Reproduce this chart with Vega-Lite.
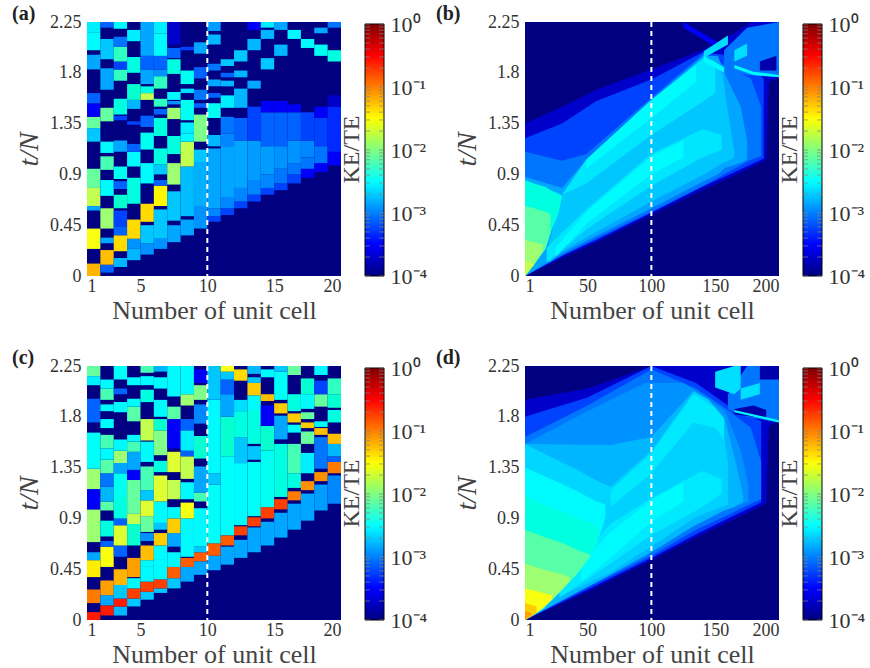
{"$schema":"https://vega.github.io/schema/vega-lite/v6.json","padding":{"left":12,"top":4,"right":0,"bottom":0},"config":{"view":{"stroke":null},"font":"Liberation Serif","axis":{"grid":false,"domain":false,"ticks":false,"labelFontSize":18,"labelColor":"#333333","titleColor":"#444444","titleFontWeight":"normal","labelFont":"Liberation Serif","titleFont":"Liberation Serif"},"title":{"font":"Liberation Serif","fontSize":20,"fontWeight":"bold","anchor":"start","frame":"group","color":"#222222"}},
"datasets":{"cb":[{"lo":1e-4,"hi":1}],"tk":[{"y":1e-4},{"y":2e-4},{"y":3e-4},{"y":4e-4},{"y":5e-4},{"y":6e-4},{"y":7e-4},{"y":8e-4},{"y":9e-4},{"y":1e-3},{"y":2e-3},{"y":3e-3},{"y":4e-3},{"y":5e-3},{"y":6e-3},{"y":7e-3},{"y":8e-3},{"y":9e-3},{"y":1e-2},{"y":2e-2},{"y":3e-2},{"y":4e-2},{"y":5e-2},{"y":6e-2},{"y":7e-2},{"y":8e-2},{"y":9e-2},{"y":0.1},{"y":0.2},{"y":0.3},{"y":0.4},{"y":0.5},{"y":0.6},{"y":0.7},{"y":0.8},{"y":0.9},{"y":1}],"m10":[{"x":10}],"m100":[{"x":100}],
"a":[{"x":1,"x2":20,"t0":0,"t1":2.25,"v":1e-4},
{"x":1,"x2":2,"t0":0,"t1":0.11,"v":8e-2},{"x":1,"x2":2,"t0":0.24,"t1":0.42,"v":3e-2},{"x":1,"x2":2,"t0":0.58,"t1":0.62,"v":1e-3},{"x":1,"x2":2,"t0":0.62,"t1":0.78,"v":2e-2},{"x":1,"x2":2,"t0":0.78,"t1":0.95,"v":1e-2},{"x":1,"x2":2,"t0":1.19,"t1":1.31,"v":1.5e-3},{"x":1,"x2":2,"t0":1.31,"t1":1.41,"v":1e-2},{"x":1,"x2":2,"t0":1.41,"t1":1.53,"v":3e-4},{"x":1,"x2":2,"t0":1.53,"t1":1.62,"v":5e-4},{"x":1,"x2":2,"t0":1.83,"t1":1.96,"v":1e-3},{"x":1,"x2":2,"t0":2,"t1":2.16,"v":3e-3},{"x":1,"x2":2,"t0":2.16,"t1":2.25,"v":2.5e-3},
{"x":2,"x2":3,"t0":0.03,"t1":0.1,"v":5e-4},{"x":2,"x2":3,"t0":0.1,"t1":0.23,"v":7e-2},{"x":2,"x2":3,"t0":0.29,"t1":0.34,"v":1e-3},{"x":2,"x2":3,"t0":0.42,"t1":0.6,"v":1.5e-2},{"x":2,"x2":3,"t0":0.71,"t1":0.85,"v":3e-3},{"x":2,"x2":3,"t0":0.94,"t1":1.06,"v":8e-3},{"x":2,"x2":3,"t0":1.09,"t1":1.19,"v":3e-3},{"x":2,"x2":3,"t0":1.37,"t1":1.49,"v":1e-2},{"x":2,"x2":3,"t0":1.65,"t1":1.84,"v":1e-3},{"x":2,"x2":3,"t0":1.92,"t1":2.1,"v":1.5e-3},{"x":2,"x2":3,"t0":2.2,"t1":2.25,"v":5e-4},
{"x":3,"x2":4,"t0":0.08,"t1":0.16,"v":1.2e-3},{"x":3,"x2":4,"t0":0.22,"t1":0.36,"v":5e-2},{"x":3,"x2":4,"t0":0.36,"t1":0.44,"v":5e-4},{"x":3,"x2":4,"t0":0.44,"t1":0.58,"v":4e-4},{"x":3,"x2":4,"t0":0.6,"t1":0.72,"v":6e-3},{"x":3,"x2":4,"t0":0.77,"t1":0.84,"v":5e-4},{"x":3,"x2":4,"t0":0.86,"t1":0.97,"v":4e-3},{"x":3,"x2":4,"t0":1.1,"t1":1.2,"v":1e-3},{"x":3,"x2":4,"t0":1.38,"t1":1.42,"v":4e-4},{"x":3,"x2":4,"t0":1.43,"t1":1.57,"v":5e-3},{"x":3,"x2":4,"t0":1.73,"t1":1.83,"v":7e-3},{"x":3,"x2":4,"t0":1.83,"t1":1.9,"v":4e-4},{"x":3,"x2":4,"t0":1.9,"t1":2.03,"v":7e-3},{"x":3,"x2":4,"t0":2.03,"t1":2.12,"v":6e-4},{"x":3,"x2":4,"t0":2.19,"t1":2.25,"v":3e-3},
{"x":4,"x2":5,"t0":0.14,"t1":0.24,"v":1.2e-3},{"x":4,"x2":5,"t0":0.24,"t1":0.33,"v":8e-4},{"x":4,"x2":5,"t0":0.33,"t1":0.5,"v":5e-2},{"x":4,"x2":5,"t0":0.64,"t1":0.87,"v":5e-3},{"x":4,"x2":5,"t0":0.97,"t1":1.1,"v":3e-3},{"x":4,"x2":5,"t0":1.1,"t1":1.17,"v":5e-4},{"x":4,"x2":5,"t0":1.34,"t1":1.37,"v":4e-4},{"x":4,"x2":5,"t0":1.48,"t1":1.56,"v":1.2e-3},{"x":4,"x2":5,"t0":1.56,"t1":1.7,"v":6e-3},{"x":4,"x2":5,"t0":1.8,"t1":1.94,"v":5e-3},{"x":4,"x2":5,"t0":2.08,"t1":2.18,"v":2.5e-3},
{"x":5,"x2":6,"t0":0.19,"t1":0.29,"v":8e-4},{"x":5,"x2":6,"t0":0.29,"t1":0.45,"v":1.5e-3},{"x":5,"x2":6,"t0":0.48,"t1":0.64,"v":5e-2},{"x":5,"x2":6,"t0":0.82,"t1":1,"v":3e-3},{"x":5,"x2":6,"t0":1.12,"t1":1.27,"v":4e-3},{"x":5,"x2":6,"t0":1.32,"t1":1.42,"v":5e-4},{"x":5,"x2":6,"t0":1.56,"t1":1.62,"v":2e-2},{"x":5,"x2":6,"t0":1.62,"t1":1.68,"v":5e-3},{"x":5,"x2":6,"t0":1.7,"t1":1.83,"v":1e-3},{"x":5,"x2":6,"t0":1.83,"t1":1.95,"v":5e-4},{"x":5,"x2":6,"t0":1.95,"t1":2.25,"v":1e-3},
{"x":6,"x2":7,"t0":0.24,"t1":0.33,"v":8e-4},{"x":6,"x2":7,"t0":0.33,"t1":0.59,"v":1.5e-3},{"x":6,"x2":7,"t0":0.62,"t1":0.8,"v":3.5e-2},{"x":6,"x2":7,"t0":0.8,"t1":0.85,"v":5e-4},{"x":6,"x2":7,"t0":0.9,"t1":0.99,"v":1.5e-3},{"x":6,"x2":7,"t0":0.99,"t1":1.13,"v":5e-3},{"x":6,"x2":7,"t0":1.24,"t1":1.4,"v":5e-3},{"x":6,"x2":7,"t0":1.43,"t1":1.48,"v":5e-4},{"x":6,"x2":7,"t0":1.5,"t1":1.57,"v":7e-3},{"x":6,"x2":7,"t0":1.66,"t1":1.77,"v":7e-3},{"x":6,"x2":7,"t0":1.77,"t1":1.83,"v":8e-4},{"x":6,"x2":7,"t0":1.83,"t1":1.95,"v":5e-4},{"x":6,"x2":7,"t0":1.95,"t1":2.15,"v":3e-3},{"x":6,"x2":7,"t0":2.15,"t1":2.25,"v":2.5e-3},
{"x":7,"x2":8,"t0":0.3,"t1":0.45,"v":1e-3},{"x":7,"x2":8,"t0":0.49,"t1":0.75,"v":1.5e-3},{"x":7,"x2":8,"t0":0.81,"t1":1,"v":1.5e-2},{"x":7,"x2":8,"t0":1.08,"t1":1.24,"v":5e-3},{"x":7,"x2":8,"t0":1.39,"t1":1.49,"v":1.5e-2},{"x":7,"x2":8,"t0":1.52,"t1":1.55,"v":8e-4},{"x":7,"x2":8,"t0":1.56,"t1":1.63,"v":3e-3},{"x":7,"x2":8,"t0":1.79,"t1":1.92,"v":5e-3},{"x":7,"x2":8,"t0":1.93,"t1":2.02,"v":5e-4},{"x":7,"x2":8,"t0":2.05,"t1":2.25,"v":2e-4},
{"x":8,"x2":9,"t0":0.36,"t1":0.5,"v":1e-3},{"x":8,"x2":9,"t0":0.53,"t1":0.97,"v":1.3e-3},{"x":8,"x2":9,"t0":0.97,"t1":1.19,"v":2e-2},{"x":8,"x2":9,"t0":1.19,"t1":1.26,"v":3e-3},{"x":8,"x2":9,"t0":1.26,"t1":1.36,"v":2.5e-3},{"x":8,"x2":9,"t0":1.38,"t1":1.56,"v":4e-3},{"x":8,"x2":9,"t0":1.62,"t1":1.66,"v":2e-3},{"x":8,"x2":9,"t0":1.7,"t1":1.82,"v":4e-3},{"x":8,"x2":9,"t0":2,"t1":2.03,"v":4e-4},
{"x":9,"x2":10,"t0":0.42,"t1":0.62,"v":8e-4},{"x":9,"x2":10,"t0":0.62,"t1":1.01,"v":1.1e-3},{"x":9,"x2":10,"t0":1.01,"t1":1.12,"v":1.5e-3},{"x":9,"x2":10,"t0":1.19,"t1":1.43,"v":1.2e-2},{"x":9,"x2":10,"t0":1.49,"t1":1.53,"v":5e-4},{"x":9,"x2":10,"t0":1.56,"t1":1.65,"v":6e-4},{"x":9,"x2":10,"t0":1.75,"t1":1.85,"v":5e-4},{"x":9,"x2":10,"t0":1.97,"t1":2.07,"v":1e-3},
{"x":10,"x2":11,"t0":0.48,"t1":0.53,"v":4e-4},{"x":10,"x2":11,"t0":0.53,"t1":0.6,"v":7e-4},{"x":10,"x2":11,"t0":0.6,"t1":1.13,"v":1e-3},{"x":10,"x2":11,"t0":1.15,"t1":1.25,"v":1.2e-3},{"x":10,"x2":11,"t0":1.4,"t1":1.53,"v":4e-3},{"x":10,"x2":11,"t0":1.58,"t1":1.62,"v":5e-4},{"x":10,"x2":11,"t0":1.68,"t1":1.74,"v":1e-3},{"x":10,"x2":11,"t0":1.82,"t1":1.88,"v":6e-4},{"x":10,"x2":11,"t0":2.05,"t1":2.14,"v":1.2e-3},{"x":10,"x2":11,"t0":2.17,"t1":2.25,"v":9e-4},
{"x":11,"x2":12,"t0":0.54,"t1":0.6,"v":4e-4},{"x":11,"x2":12,"t0":0.6,"t1":0.7,"v":7e-4},{"x":11,"x2":12,"t0":0.7,"t1":1.15,"v":1e-3},{"x":11,"x2":12,"t0":1.15,"t1":1.26,"v":7e-4},{"x":11,"x2":12,"t0":1.26,"t1":1.41,"v":6e-4},{"x":11,"x2":12,"t0":1.49,"t1":1.6,"v":2.5e-3},{"x":11,"x2":12,"t0":1.68,"t1":1.73,"v":1.2e-3},{"x":11,"x2":12,"t0":1.76,"t1":1.8,"v":5e-4},{"x":11,"x2":12,"t0":1.86,"t1":1.92,"v":1.5e-3},
{"x":12,"x2":13,"t0":0.6,"t1":0.66,"v":4e-4},{"x":12,"x2":13,"t0":0.66,"t1":0.78,"v":7e-4},{"x":12,"x2":13,"t0":0.78,"t1":1.2,"v":1e-3},{"x":12,"x2":13,"t0":1.2,"t1":1.4,"v":5e-4},{"x":12,"x2":13,"t0":1.49,"t1":1.66,"v":1.2e-3},{"x":12,"x2":13,"t0":1.76,"t1":1.82,"v":1.2e-3},{"x":12,"x2":13,"t0":1.9,"t1":2,"v":1.5e-3},
{"x":13,"x2":14,"t0":0.66,"t1":0.72,"v":4e-4},{"x":13,"x2":14,"t0":0.72,"t1":0.85,"v":7e-4},{"x":13,"x2":14,"t0":0.85,"t1":1.2,"v":9e-4},{"x":13,"x2":14,"t0":1.2,"t1":1.5,"v":4e-4},{"x":13,"x2":14,"t0":1.66,"t1":1.73,"v":1e-3},{"x":13,"x2":14,"t0":2,"t1":2.1,"v":1.2e-3},{"x":13,"x2":14,"t0":2.18,"t1":2.25,"v":3e-4},
{"x":14,"x2":15,"t0":0.72,"t1":0.78,"v":4e-4},{"x":14,"x2":15,"t0":0.78,"t1":0.9,"v":7e-4},{"x":14,"x2":15,"t0":0.9,"t1":1.15,"v":9e-4},{"x":14,"x2":15,"t0":1.15,"t1":1.45,"v":5e-4},{"x":14,"x2":15,"t0":1.45,"t1":1.55,"v":3e-4},{"x":14,"x2":15,"t0":1.83,"t1":1.93,"v":1.5e-3},{"x":14,"x2":15,"t0":2.1,"t1":2.18,"v":1.2e-3},{"x":14,"x2":15,"t0":2.2,"t1":2.25,"v":2.5e-3},
{"x":15,"x2":16,"t0":0.76,"t1":0.82,"v":4e-4},{"x":15,"x2":16,"t0":0.82,"t1":0.95,"v":6e-4},{"x":15,"x2":16,"t0":0.95,"t1":1.15,"v":8e-4},{"x":15,"x2":16,"t0":1.15,"t1":1.45,"v":5e-4},{"x":15,"x2":16,"t0":1.45,"t1":1.55,"v":3e-4},{"x":15,"x2":16,"t0":1.95,"t1":2.05,"v":1.2e-3},{"x":15,"x2":16,"t0":2.18,"t1":2.25,"v":1e-3},
{"x":16,"x2":17,"t0":0.82,"t1":0.9,"v":4e-4},{"x":16,"x2":17,"t0":0.9,"t1":1,"v":6e-4},{"x":16,"x2":17,"t0":1,"t1":1.2,"v":8e-4},{"x":16,"x2":17,"t0":1.2,"t1":1.45,"v":5e-4},{"x":16,"x2":17,"t0":1.45,"t1":1.52,"v":3e-4},{"x":16,"x2":17,"t0":2.1,"t1":2.18,"v":3e-3},
{"x":17,"x2":18,"t0":0.87,"t1":0.95,"v":3e-4},{"x":17,"x2":18,"t0":0.95,"t1":1.05,"v":6e-4},{"x":17,"x2":18,"t0":1.05,"t1":1.2,"v":7e-4},{"x":17,"x2":18,"t0":1.2,"t1":1.45,"v":4e-4},{"x":17,"x2":18,"t0":2.02,"t1":2.1,"v":3e-3},
{"x":18,"x2":19,"t0":0.92,"t1":1,"v":3e-4},{"x":18,"x2":19,"t0":1,"t1":1.15,"v":6e-4},{"x":18,"x2":19,"t0":1.15,"t1":1.4,"v":4e-4},{"x":18,"x2":19,"t0":1.4,"t1":1.5,"v":3e-4},{"x":18,"x2":19,"t0":1.95,"t1":2.05,"v":4e-3},{"x":18,"x2":19,"t0":2.15,"t1":2.2,"v":1e-3},
{"x":19,"x2":20,"t0":0.98,"t1":1.1,"v":3e-4},{"x":19,"x2":20,"t0":1.1,"t1":1.5,"v":3.5e-4},{"x":19,"x2":20,"t0":1.5,"t1":1.6,"v":2e-4},{"x":19,"x2":20,"t0":1.9,"t1":2,"v":5e-3},{"x":19,"x2":20,"t0":2.2,"t1":2.25,"v":6e-4}],
"c":[{"x":1,"x2":20,"t0":0,"t1":2.25,"v":1e-4},
{"x":1,"x2":2,"t0":0,"t1":0.07,"v":0.3},{"x":1,"x2":2,"t0":0.15,"t1":0.27,"v":0.15},{"x":1,"x2":2,"t0":0.38,"t1":0.53,"v":4e-2},{"x":1,"x2":2,"t0":0.53,"t1":0.6,"v":1e-3},{"x":1,"x2":2,"t0":0.69,"t1":0.98,"v":1.5e-2},{"x":1,"x2":2,"t0":0.98,"t1":1.16,"v":3e-4},{"x":1,"x2":2,"t0":1.16,"t1":1.34,"v":1.5e-2},{"x":1,"x2":2,"t0":1.34,"t1":1.66,"v":3.5e-3},{"x":1,"x2":2,"t0":1.75,"t1":1.96,"v":5e-4},{"x":1,"x2":2,"t0":2.08,"t1":2.16,"v":2.5e-3},{"x":1,"x2":2,"t0":2.16,"t1":2.25,"v":1e-2},
{"x":2,"x2":3,"t0":0.04,"t1":0.13,"v":0.3},{"x":2,"x2":3,"t0":0.13,"t1":0.22,"v":1e-3},{"x":2,"x2":3,"t0":0.22,"t1":0.35,"v":0.1},{"x":2,"x2":3,"t0":0.47,"t1":0.65,"v":3e-2},{"x":2,"x2":3,"t0":0.65,"t1":0.7,"v":5e-4},{"x":2,"x2":3,"t0":0.74,"t1":0.88,"v":5e-3},{"x":2,"x2":3,"t0":0.97,"t1":1.05,"v":9e-3},{"x":2,"x2":3,"t0":1.05,"t1":1.18,"v":1.2e-3},{"x":2,"x2":3,"t0":1.18,"t1":1.3,"v":6e-4},{"x":2,"x2":3,"t0":1.3,"t1":1.42,"v":9e-3},{"x":2,"x2":3,"t0":1.42,"t1":1.52,"v":3e-3},{"x":2,"x2":3,"t0":1.52,"t1":1.64,"v":8e-3},{"x":2,"x2":3,"t0":1.7,"t1":1.78,"v":3e-3},{"x":2,"x2":3,"t0":1.85,"t1":1.91,"v":3e-3},{"x":2,"x2":3,"t0":1.95,"t1":2.05,"v":8e-3},{"x":2,"x2":3,"t0":2.05,"t1":2.13,"v":3e-3},
{"x":3,"x2":4,"t0":0.04,"t1":0.12,"v":1.2e-3},{"x":3,"x2":4,"t0":0.12,"t1":0.19,"v":0.3},{"x":3,"x2":4,"t0":0.19,"t1":0.31,"v":1.5e-3},{"x":3,"x2":4,"t0":0.31,"t1":0.45,"v":8e-2},{"x":3,"x2":4,"t0":0.56,"t1":0.66,"v":5e-4},{"x":3,"x2":4,"t0":0.66,"t1":0.84,"v":2.5e-2},{"x":3,"x2":4,"t0":0.84,"t1":0.9,"v":5e-4},{"x":3,"x2":4,"t0":0.9,"t1":1.09,"v":5e-3},{"x":3,"x2":4,"t0":1.09,"t1":1.3,"v":4e-3},{"x":3,"x2":4,"t0":1.3,"t1":1.39,"v":1e-3},{"x":3,"x2":4,"t0":1.39,"t1":1.5,"v":1.5e-2},{"x":3,"x2":4,"t0":1.5,"t1":1.6,"v":3e-3},{"x":3,"x2":4,"t0":1.84,"t1":1.93,"v":3e-3},{"x":3,"x2":4,"t0":2,"t1":2.05,"v":5e-4},{"x":3,"x2":4,"t0":2.13,"t1":2.25,"v":3.5e-3},
{"x":4,"x2":5,"t0":0.12,"t1":0.19,"v":1.5e-3},{"x":4,"x2":5,"t0":0.19,"t1":0.28,"v":0.25},{"x":4,"x2":5,"t0":0.28,"t1":0.37,"v":3e-3},{"x":4,"x2":5,"t0":0.38,"t1":0.55,"v":0.1},{"x":4,"x2":5,"t0":0.66,"t1":0.85,"v":6e-3},{"x":4,"x2":5,"t0":0.85,"t1":0.94,"v":2e-2},{"x":4,"x2":5,"t0":0.94,"t1":1.24,"v":1e-2},{"x":4,"x2":5,"t0":1.24,"t1":1.33,"v":3e-4},{"x":4,"x2":5,"t0":1.33,"t1":1.49,"v":1e-3},{"x":4,"x2":5,"t0":1.49,"t1":1.58,"v":8e-3},{"x":4,"x2":5,"t0":1.58,"t1":1.64,"v":3e-3},{"x":4,"x2":5,"t0":1.76,"t1":1.89,"v":9e-3},{"x":4,"x2":5,"t0":1.89,"t1":1.96,"v":3e-3},{"x":4,"x2":5,"t0":2.08,"t1":2.15,"v":3e-3},
{"x":5,"x2":6,"t0":0.18,"t1":0.25,"v":1.5e-3},{"x":5,"x2":6,"t0":0.25,"t1":0.34,"v":0.25},{"x":5,"x2":6,"t0":0.34,"t1":0.47,"v":3e-3},{"x":5,"x2":6,"t0":0.47,"t1":0.53,"v":3e-3},{"x":5,"x2":6,"t0":0.53,"t1":0.66,"v":7e-2},{"x":5,"x2":6,"t0":0.7,"t1":0.77,"v":8e-4},{"x":5,"x2":6,"t0":0.78,"t1":0.92,"v":1e-2},{"x":5,"x2":6,"t0":0.92,"t1":1.06,"v":2.5e-2},{"x":5,"x2":6,"t0":1.06,"t1":1.15,"v":1.5e-3},{"x":5,"x2":6,"t0":1.15,"t1":1.36,"v":8e-3},{"x":5,"x2":6,"t0":1.4,"t1":1.58,"v":3e-3},{"x":5,"x2":6,"t0":1.59,"t1":1.78,"v":2e-2},{"x":5,"x2":6,"t0":1.93,"t1":2.04,"v":5e-3},{"x":5,"x2":6,"t0":2.08,"t1":2.16,"v":3e-3},{"x":5,"x2":6,"t0":2.19,"t1":2.25,"v":8e-3},
{"x":6,"x2":7,"t0":0.24,"t1":0.28,"v":1.5e-3},{"x":6,"x2":7,"t0":0.28,"t1":0.36,"v":0.25},{"x":6,"x2":7,"t0":0.36,"t1":0.54,"v":3e-3},{"x":6,"x2":7,"t0":0.54,"t1":0.66,"v":3e-3},{"x":6,"x2":7,"t0":0.66,"t1":0.77,"v":6e-2},{"x":6,"x2":7,"t0":0.8,"t1":0.86,"v":1.5e-3},{"x":6,"x2":7,"t0":0.86,"t1":1.05,"v":3e-3},{"x":6,"x2":7,"t0":1.05,"t1":1.28,"v":2.5e-2},{"x":6,"x2":7,"t0":1.31,"t1":1.41,"v":5e-3},{"x":6,"x2":7,"t0":1.46,"t1":1.68,"v":1.2e-2},{"x":6,"x2":7,"t0":1.68,"t1":1.78,"v":6e-3},{"x":6,"x2":7,"t0":1.8,"t1":1.95,"v":3e-3},{"x":6,"x2":7,"t0":2.05,"t1":2.15,"v":3e-3},{"x":6,"x2":7,"t0":2.2,"t1":2.25,"v":1.2e-3},
{"x":7,"x2":8,"t0":0.28,"t1":0.37,"v":1.5e-3},{"x":7,"x2":8,"t0":0.37,"t1":0.47,"v":0.2},{"x":7,"x2":8,"t0":0.47,"t1":0.6,"v":3e-3},{"x":7,"x2":8,"t0":0.65,"t1":0.77,"v":1e-3},{"x":7,"x2":8,"t0":0.77,"t1":0.9,"v":6e-2},{"x":7,"x2":8,"t0":0.9,"t1":1,"v":3e-3},{"x":7,"x2":8,"t0":1.07,"t1":1.24,"v":2e-2},{"x":7,"x2":8,"t0":1.31,"t1":1.49,"v":2.5e-2},{"x":7,"x2":8,"t0":1.52,"t1":1.78,"v":3e-4},{"x":7,"x2":8,"t0":1.78,"t1":1.89,"v":9e-3},{"x":7,"x2":8,"t0":1.98,"t1":2.25,"v":3e-3},
{"x":8,"x2":9,"t0":0.34,"t1":0.47,"v":1e-3},{"x":8,"x2":9,"t0":0.47,"t1":0.55,"v":0.2},{"x":8,"x2":9,"t0":0.56,"t1":0.9,"v":3e-3},{"x":8,"x2":9,"t0":0.9,"t1":1.04,"v":3e-2},{"x":8,"x2":9,"t0":1.07,"t1":1.22,"v":3e-3},{"x":8,"x2":9,"t0":1.25,"t1":1.45,"v":2e-2},{"x":8,"x2":9,"t0":1.45,"t1":1.5,"v":5e-4},{"x":8,"x2":9,"t0":1.5,"t1":1.68,"v":2.5e-3},{"x":8,"x2":9,"t0":1.68,"t1":1.78,"v":5e-4},{"x":8,"x2":9,"t0":1.9,"t1":2,"v":1.5e-2},{"x":8,"x2":9,"t0":2,"t1":2.25,"v":3e-3},
{"x":9,"x2":10,"t0":0.4,"t1":0.52,"v":1e-3},{"x":9,"x2":10,"t0":0.52,"t1":0.6,"v":0.2},{"x":9,"x2":10,"t0":0.6,"t1":0.65,"v":1.5e-3},{"x":9,"x2":10,"t0":0.65,"t1":0.99,"v":3e-3},{"x":9,"x2":10,"t0":1.05,"t1":1.13,"v":8e-3},{"x":9,"x2":10,"t0":1.13,"t1":1.36,"v":1e-3},{"x":9,"x2":10,"t0":1.43,"t1":1.63,"v":6e-3},{"x":9,"x2":10,"t0":1.74,"t1":1.91,"v":7e-4},{"x":9,"x2":10,"t0":1.95,"t1":2.08,"v":1.2e-2},{"x":9,"x2":10,"t0":2.1,"t1":2.22,"v":3e-4},
{"x":10,"x2":11,"t0":0.44,"t1":0.57,"v":1e-3},{"x":10,"x2":11,"t0":0.57,"t1":0.68,"v":0.2},{"x":10,"x2":11,"t0":0.68,"t1":1.2,"v":3.5e-3},{"x":10,"x2":11,"t0":1.2,"t1":1.3,"v":1.5e-3},{"x":10,"x2":11,"t0":1.3,"t1":1.95,"v":3e-3},{"x":10,"x2":11,"t0":1.95,"t1":2.25,"v":1.5e-3},
{"x":11,"x2":12,"t0":0.49,"t1":0.65,"v":1e-3},{"x":11,"x2":12,"t0":0.66,"t1":0.75,"v":0.2},{"x":11,"x2":12,"t0":0.75,"t1":1.45,"v":3.5e-3},{"x":11,"x2":12,"t0":1.45,"t1":1.8,"v":6e-3},{"x":11,"x2":12,"t0":1.8,"t1":2,"v":1e-3},{"x":11,"x2":12,"t0":2,"t1":2.13,"v":5e-4},{"x":11,"x2":12,"t0":2.13,"t1":2.2,"v":1.5e-3},{"x":11,"x2":12,"t0":2.2,"t1":2.25,"v":3e-2},
{"x":12,"x2":13,"t0":0.55,"t1":0.71,"v":1e-3},{"x":12,"x2":13,"t0":0.75,"t1":0.83,"v":0.25},{"x":12,"x2":13,"t0":0.84,"t1":1.39,"v":3e-3},{"x":12,"x2":13,"t0":1.39,"t1":1.62,"v":1.5e-3},{"x":12,"x2":13,"t0":1.62,"t1":1.85,"v":5e-3},{"x":12,"x2":13,"t0":1.85,"t1":1.95,"v":2e-3},{"x":12,"x2":13,"t0":2.12,"t1":2.22,"v":5e-2},
{"x":13,"x2":14,"t0":0.6,"t1":0.82,"v":1e-3},{"x":13,"x2":14,"t0":0.83,"t1":0.91,"v":0.25},{"x":13,"x2":14,"t0":0.92,"t1":1.4,"v":3.5e-3},{"x":13,"x2":14,"t0":1.42,"t1":1.54,"v":1.5e-3},{"x":13,"x2":14,"t0":1.56,"t1":1.86,"v":5e-3},{"x":13,"x2":14,"t0":1.86,"t1":1.99,"v":3e-3},{"x":13,"x2":14,"t0":1.99,"t1":2.1,"v":6e-2},{"x":13,"x2":14,"t0":2.1,"t1":2.15,"v":1.5e-3},{"x":13,"x2":14,"t0":2.18,"t1":2.25,"v":1.2e-3},
{"x":14,"x2":15,"t0":0.66,"t1":0.87,"v":1e-3},{"x":14,"x2":15,"t0":0.9,"t1":1,"v":0.25},{"x":14,"x2":15,"t0":1,"t1":1.5,"v":4e-3},{"x":14,"x2":15,"t0":1.5,"t1":1.72,"v":6e-3},{"x":14,"x2":15,"t0":1.72,"t1":1.9,"v":3e-4},{"x":14,"x2":15,"t0":1.94,"t1":2,"v":7e-2},{"x":14,"x2":15,"t0":2.15,"t1":2.22,"v":3e-3},
{"x":15,"x2":16,"t0":0.73,"t1":0.95,"v":1e-3},{"x":15,"x2":16,"t0":0.98,"t1":1.07,"v":0.25},{"x":15,"x2":16,"t0":1.09,"t1":1.56,"v":5e-3},{"x":15,"x2":16,"t0":1.6,"t1":1.81,"v":1e-3},{"x":15,"x2":16,"t0":1.83,"t1":1.92,"v":6e-2},{"x":15,"x2":16,"t0":1.95,"t1":2.2,"v":3.5e-3},{"x":15,"x2":16,"t0":2.2,"t1":2.25,"v":1.5e-3},
{"x":16,"x2":17,"t0":0.8,"t1":1.03,"v":1e-3},{"x":16,"x2":17,"t0":1.06,"t1":1.14,"v":0.15},{"x":16,"x2":17,"t0":1.17,"t1":1.3,"v":5e-3},{"x":16,"x2":17,"t0":1.3,"t1":1.56,"v":8e-3},{"x":16,"x2":17,"t0":1.66,"t1":1.73,"v":3e-3},{"x":16,"x2":17,"t0":1.75,"t1":1.83,"v":6e-2},{"x":16,"x2":17,"t0":1.85,"t1":2,"v":5e-3},{"x":16,"x2":17,"t0":2.17,"t1":2.25,"v":1e-2},
{"x":17,"x2":18,"t0":0.88,"t1":1.12,"v":1e-3},{"x":17,"x2":18,"t0":1.15,"t1":1.23,"v":0.12},{"x":17,"x2":18,"t0":1.3,"t1":1.48,"v":2.5e-3},{"x":17,"x2":18,"t0":1.56,"t1":1.67,"v":1e-2},{"x":17,"x2":18,"t0":1.7,"t1":1.75,"v":6e-2},{"x":17,"x2":18,"t0":1.78,"t1":1.84,"v":1e-2},{"x":17,"x2":18,"t0":1.87,"t1":2,"v":3e-3},{"x":17,"x2":18,"t0":2,"t1":2.14,"v":6e-3},
{"x":18,"x2":19,"t0":0.97,"t1":1.2,"v":9e-4},{"x":18,"x2":19,"t0":1.23,"t1":1.31,"v":0.12},{"x":18,"x2":19,"t0":1.34,"t1":1.62,"v":6e-4},{"x":18,"x2":19,"t0":1.64,"t1":1.7,"v":7e-2},{"x":18,"x2":19,"t0":1.71,"t1":1.76,"v":4e-3},{"x":18,"x2":19,"t0":1.89,"t1":2,"v":1e-2},{"x":18,"x2":19,"t0":2,"t1":2.12,"v":4e-4},{"x":18,"x2":19,"t0":2.17,"t1":2.25,"v":3e-3},
{"x":19,"x2":20,"t0":1.03,"t1":1.28,"v":7e-4},{"x":19,"x2":20,"t0":1.3,"t1":1.4,"v":0.15},{"x":19,"x2":20,"t0":1.4,"t1":1.45,"v":5e-4},{"x":19,"x2":20,"t0":1.45,"t1":1.56,"v":1.2e-3},{"x":19,"x2":20,"t0":1.56,"t1":1.65,"v":7e-2},{"x":19,"x2":20,"t0":1.75,"t1":1.86,"v":5e-3},{"x":19,"x2":20,"t0":1.88,"t1":2,"v":6e-3},{"x":19,"x2":20,"t0":2,"t1":2.14,"v":7e-3}],
"b":[{"k":0,"x":1,"lo":0,"hi":2.25,"v":1e-4},{"k":0,"x":200,"lo":0,"hi":2.25,"v":1e-4},
{"k":1,"x":1,"lo":0,"hi":1.35,"v":2e-4},{"k":1,"x":30,"lo":0.16,"hi":1.5,"v":2e-4},{"k":1,"x":57,"lo":0.3,"hi":1.65,"v":2e-4},{"k":1,"x":100,"lo":0.54,"hi":1.83,"v":2e-4},{"k":1,"x":140,"lo":0.76,"hi":2,"v":2e-4},{"k":1,"x":165,"lo":0.89,"hi":2.15,"v":2e-4},{"k":1,"x":178,"lo":0.96,"hi":2.25,"v":2e-4},{"k":1,"x":190,"lo":1.03,"hi":2.25,"v":2e-4},{"k":1,"x":192,"lo":1.72,"hi":2.25,"v":2e-4},{"k":1,"x":200,"lo":1.76,"hi":2.25,"v":2e-4},
{"k":2,"x":1,"lo":0,"hi":1.22,"v":4e-4},{"k":2,"x":30,"lo":0.18,"hi":1.35,"v":4e-4},{"k":2,"x":57,"lo":0.32,"hi":1.55,"v":4e-4},{"k":2,"x":100,"lo":0.56,"hi":1.74,"v":4e-4},{"k":2,"x":140,"lo":0.79,"hi":1.98,"v":4e-4},{"k":2,"x":165,"lo":0.92,"hi":1.95,"v":4e-4},{"k":2,"x":188,"lo":1.04,"hi":1.75,"v":4e-4},
{"k":3,"x":1,"lo":0,"hi":1.1,"v":6e-4},{"k":3,"x":30,"lo":0.18,"hi":1.02,"v":6e-4},{"k":3,"x":49,"lo":0.29,"hi":1.08,"v":6e-4},{"k":3,"x":100,"lo":0.57,"hi":1.58,"v":6e-4},{"k":3,"x":141,"lo":0.8,"hi":1.97,"v":6e-4},{"k":3,"x":160,"lo":0.92,"hi":1.85,"v":6e-4},{"k":3,"x":178,"lo":1.03,"hi":1.75,"v":6e-4},{"k":3,"x":186,"lo":1.06,"hi":1.5,"v":6e-4},
{"k":4,"x":1,"lo":0,"hi":0.88,"v":1e-3},{"k":4,"x":30,"lo":0.2,"hi":0.78,"v":1e-3},{"k":4,"x":49,"lo":0.31,"hi":1.03,"v":1e-3},{"k":4,"x":100,"lo":0.6,"hi":1.56,"v":1e-3},{"k":4,"x":141,"lo":0.84,"hi":1.95,"v":1e-3},{"k":4,"x":152,"lo":0.9,"hi":1.95,"v":1e-3},{"k":4,"x":158,"lo":0.96,"hi":1.78,"v":1e-3},{"k":4,"x":170,"lo":1,"hi":1.5,"v":1e-3},{"k":4,"x":175,"lo":1.03,"hi":1.2,"v":1e-3},
{"k":5,"x":20,"lo":0.12,"hi":0.3,"v":1.5e-3},{"k":5,"x":30,"lo":0.22,"hi":0.72,"v":1.5e-3},{"k":5,"x":49,"lo":0.34,"hi":1.03,"v":1.5e-3},{"k":5,"x":100,"lo":0.66,"hi":1.56,"v":1.5e-3},{"k":5,"x":141,"lo":0.9,"hi":1.93,"v":1.5e-3},{"k":5,"x":150,"lo":0.96,"hi":1.9,"v":1.5e-3},{"k":5,"x":156,"lo":1,"hi":1.78,"v":1.5e-3},{"k":5,"x":160,"lo":1.02,"hi":1.45,"v":1.5e-3},{"k":5,"x":165,"lo":1.05,"hi":1.1,"v":1.5e-3},
{"k":6,"x":30,"lo":0.72,"hi":0.72,"v":2.2e-3},{"k":6,"x":49,"lo":0.82,"hi":1.03,"v":2.2e-3},{"k":6,"x":100,"lo":1.25,"hi":1.56,"v":2.2e-3},{"k":6,"x":141,"lo":1.55,"hi":1.93,"v":2.2e-3},{"k":6,"x":150,"lo":1.62,"hi":1.85,"v":2.2e-3},
{"k":7,"x":18,"lo":0.12,"hi":0.25,"v":2.2e-3},{"k":7,"x":50,"lo":0.42,"hi":0.6,"v":2.2e-3},{"k":7,"x":100,"lo":0.8,"hi":1.08,"v":2.2e-3},{"k":7,"x":140,"lo":1.05,"hi":1.3,"v":2.2e-3},{"k":7,"x":155,"lo":1.12,"hi":1.25,"v":2.2e-3},
{"k":8,"x":49,"lo":0.95,"hi":1.03,"v":3e-3},{"k":8,"x":100,"lo":1.4,"hi":1.56,"v":3e-3},{"k":8,"x":135,"lo":1.72,"hi":1.87,"v":3e-3},
{"k":9,"x":25,"lo":0.17,"hi":0.25,"v":3e-3},{"k":9,"x":50,"lo":0.47,"hi":0.58,"v":3e-3},{"k":9,"x":100,"lo":0.9,"hi":1.06,"v":3e-3},{"k":9,"x":125,"lo":1.05,"hi":1.2,"v":3e-3},
{"k":10,"x":1,"lo":0,"hi":0.85,"v":5e-3},{"k":10,"x":8,"lo":0.1,"hi":0.82,"v":5e-3},{"k":10,"x":17,"lo":0.24,"hi":0.79,"v":5e-3},{"k":10,"x":21,"lo":0.38,"hi":0.76,"v":5e-3},{"k":10,"x":27,"lo":0.55,"hi":0.73,"v":5e-3},{"k":10,"x":30,"lo":0.7,"hi":0.71,"v":5e-3},
{"k":11,"x":1,"lo":0,"hi":0.62,"v":9e-3},{"k":11,"x":8,"lo":0.1,"hi":0.6,"v":9e-3},{"k":11,"x":17,"lo":0.24,"hi":0.57,"v":9e-3},{"k":11,"x":21,"lo":0.38,"hi":0.55,"v":9e-3},
{"k":12,"x":1,"lo":0,"hi":0.32,"v":1.5e-2},{"k":12,"x":8,"lo":0.1,"hi":0.3,"v":1.5e-2},{"k":12,"x":15,"lo":0.22,"hi":0.28,"v":1.5e-2},
{"k":13,"x":1,"lo":0,"hi":0.13,"v":2e-2},{"k":13,"x":8,"lo":0.1,"hi":0.11,"v":2e-2},
{"k":14,"x":125,"lo":2.2,"hi":2.25,"v":3e-4},{"k":14,"x":155,"lo":2,"hi":2.05,"v":3e-4},
{"k":15,"x":157,"lo":1.82,"hi":2,"v":6e-4},{"k":15,"x":175,"lo":1.78,"hi":2.2,"v":6e-4},{"k":15,"x":200,"lo":1.76,"hi":2.25,"v":6e-4},
{"k":16,"x":141,"lo":1.93,"hi":1.99,"v":2e-3},{"k":16,"x":160,"lo":2.05,"hi":2.13,"v":2e-3},{"k":16,"x":180,"lo":2.17,"hi":2.25,"v":3e-3},
{"k":17,"x":141,"lo":1.9,"hi":1.95,"v":3e-3},{"k":17,"x":157,"lo":1.8,"hi":1.85,"v":3e-3},
{"k":18,"x":165,"lo":1.9,"hi":2,"v":2e-3},{"k":18,"x":175,"lo":1.95,"hi":2.06,"v":2e-3},{"k":18,"x":185,"lo":1.9,"hi":2,"v":1.5e-3},
{"k":19,"x":180,"lo":2.05,"hi":2.15,"v":2e-3},{"k":19,"x":195,"lo":2.1,"hi":2.22,"v":1.5e-3},
{"k":20,"x":165,"lo":1.84,"hi":1.87,"v":3e-3},{"k":20,"x":180,"lo":1.78,"hi":1.81,"v":3e-3},{"k":20,"x":200,"lo":1.76,"hi":1.78,"v":3e-3},
{"k":21,"x":185,"lo":1.82,"hi":1.9,"v":1.5e-4},{"k":21,"x":198,"lo":1.82,"hi":1.95,"v":1.5e-4}],
"d":[{"k":0,"x":1,"lo":0,"hi":2.25,"v":1e-4},{"k":0,"x":200,"lo":0,"hi":2.25,"v":1e-4},
{"k":1,"x":1,"lo":0,"hi":1.95,"v":2e-4},{"k":1,"x":50,"lo":0.25,"hi":2.05,"v":2e-4},{"k":1,"x":100,"lo":0.53,"hi":2.25,"v":2e-4},{"k":1,"x":140,"lo":0.76,"hi":2.25,"v":2e-4},{"k":1,"x":190,"lo":1.03,"hi":2.25,"v":2e-4},{"k":1,"x":192,"lo":1.72,"hi":2.25,"v":2e-4},{"k":1,"x":200,"lo":1.76,"hi":2.25,"v":2e-4},
{"k":2,"x":1,"lo":0,"hi":1.8,"v":4e-4},{"k":2,"x":50,"lo":0.27,"hi":1.97,"v":4e-4},{"k":2,"x":100,"lo":0.55,"hi":2.25,"v":4e-4},{"k":2,"x":135,"lo":0.76,"hi":2.1,"v":4e-4},{"k":2,"x":160,"lo":0.9,"hi":1.9,"v":4e-4},{"k":2,"x":186,"lo":1.04,"hi":1.76,"v":4e-4},
{"k":3,"x":1,"lo":0,"hi":1.62,"v":6e-4},{"k":3,"x":50,"lo":0.29,"hi":1.9,"v":6e-4},{"k":3,"x":100,"lo":0.57,"hi":2.22,"v":6e-4},{"k":3,"x":135,"lo":0.8,"hi":2.05,"v":6e-4},{"k":3,"x":160,"lo":0.93,"hi":1.86,"v":6e-4},{"k":3,"x":178,"lo":1.03,"hi":1.7,"v":6e-4},{"k":3,"x":186,"lo":1.07,"hi":1.4,"v":6e-4},
{"k":4,"x":1,"lo":0,"hi":1.56,"v":8e-4},{"k":4,"x":50,"lo":0.31,"hi":1.85,"v":8e-4},{"k":4,"x":95,"lo":0.58,"hi":2.1,"v":8e-4},{"k":4,"x":125,"lo":0.82,"hi":2.1,"v":8e-4},{"k":4,"x":135,"lo":0.86,"hi":2.03,"v":8e-4},{"k":4,"x":158,"lo":0.98,"hi":1.85,"v":8e-4},{"k":4,"x":170,"lo":1.02,"hi":1.5,"v":8e-4},{"k":4,"x":176,"lo":1.05,"hi":1.2,"v":8e-4},
{"k":5,"x":1,"lo":0,"hi":1.56,"v":1.2e-3},{"k":5,"x":68,"lo":0.4,"hi":1.55,"v":1.2e-3},{"k":5,"x":100,"lo":0.6,"hi":1.62,"v":1.2e-3},{"k":5,"x":133,"lo":0.83,"hi":2.03,"v":1.2e-3},{"k":5,"x":145,"lo":0.9,"hi":1.95,"v":1.2e-3},{"k":5,"x":157,"lo":0.97,"hi":1.8,"v":1.2e-3},{"k":5,"x":165,"lo":1,"hi":1.45,"v":1.2e-3},{"k":5,"x":172,"lo":1.05,"hi":1.1,"v":1.2e-3},
{"k":6,"x":30,"lo":0.22,"hi":0.3,"v":1.7e-3},{"k":6,"x":68,"lo":0.42,"hi":1.18,"v":1.7e-3},{"k":6,"x":100,"lo":0.65,"hi":1.5,"v":1.7e-3},{"k":6,"x":133,"lo":0.9,"hi":2.02,"v":1.7e-3},{"k":6,"x":145,"lo":0.96,"hi":1.95,"v":1.7e-3},{"k":6,"x":155,"lo":1,"hi":1.78,"v":1.7e-3},{"k":6,"x":160,"lo":1.02,"hi":1.4,"v":1.7e-3},
{"k":7,"x":68,"lo":1,"hi":1.15,"v":2.3e-3},{"k":7,"x":100,"lo":1.3,"hi":1.48,"v":2.3e-3},{"k":7,"x":133,"lo":1.75,"hi":2,"v":2.3e-3},{"k":7,"x":150,"lo":1.7,"hi":1.88,"v":2.3e-3},{"k":7,"x":157,"lo":1.6,"hi":1.78,"v":2.3e-3},
{"k":8,"x":28,"lo":0.2,"hi":0.3,"v":2.3e-3},{"k":8,"x":50,"lo":0.36,"hi":0.62,"v":2.3e-3},{"k":8,"x":68,"lo":0.5,"hi":0.85,"v":2.3e-3},{"k":8,"x":100,"lo":0.75,"hi":1.08,"v":2.3e-3},{"k":8,"x":140,"lo":1,"hi":1.32,"v":2.3e-3},{"k":8,"x":155,"lo":1.12,"hi":1.25,"v":2.3e-3},
{"k":9,"x":45,"lo":0.34,"hi":0.5,"v":3e-3},{"k":9,"x":68,"lo":0.55,"hi":0.78,"v":3e-3},{"k":9,"x":100,"lo":0.87,"hi":1.06,"v":3e-3},{"k":9,"x":125,"lo":1.05,"hi":1.22,"v":3e-3},
{"k":10,"x":1,"lo":0,"hi":1.56,"v":1.8e-3},{"k":10,"x":15,"lo":0.1,"hi":1.48,"v":1.8e-3},{"k":10,"x":31,"lo":0.28,"hi":1.39,"v":1.8e-3},{"k":10,"x":42,"lo":0.41,"hi":1.33,"v":1.8e-3},{"k":10,"x":55,"lo":0.62,"hi":1.25,"v":1.8e-3},{"k":10,"x":62,"lo":0.83,"hi":1.21,"v":1.8e-3},{"k":10,"x":68,"lo":1.15,"hi":1.18,"v":1.8e-3},
{"k":11,"x":1,"lo":0,"hi":1.35,"v":3e-3},{"k":11,"x":15,"lo":0.1,"hi":1.28,"v":3e-3},{"k":11,"x":31,"lo":0.28,"hi":1.2,"v":3e-3},{"k":11,"x":42,"lo":0.41,"hi":1.14,"v":3e-3},{"k":11,"x":55,"lo":0.62,"hi":1.06,"v":3e-3},{"k":11,"x":62,"lo":0.83,"hi":1.03,"v":3e-3},{"k":11,"x":64,"lo":0.92,"hi":1.02,"v":3e-3},
{"k":12,"x":1,"lo":0,"hi":1.1,"v":5e-3},{"k":12,"x":15,"lo":0.1,"hi":1.02,"v":5e-3},{"k":12,"x":31,"lo":0.28,"hi":0.96,"v":5e-3},{"k":12,"x":42,"lo":0.41,"hi":0.9,"v":5e-3},{"k":12,"x":55,"lo":0.62,"hi":0.85,"v":5e-3},{"k":12,"x":58,"lo":0.7,"hi":0.82,"v":5e-3},
{"k":13,"x":1,"lo":0,"hi":0.8,"v":9e-3},{"k":13,"x":15,"lo":0.1,"hi":0.74,"v":9e-3},{"k":13,"x":31,"lo":0.28,"hi":0.68,"v":9e-3},{"k":13,"x":42,"lo":0.41,"hi":0.62,"v":9e-3},{"k":13,"x":52,"lo":0.56,"hi":0.58,"v":9e-3},
{"k":14,"x":1,"lo":0,"hi":0.5,"v":1.5e-2},{"k":14,"x":15,"lo":0.1,"hi":0.45,"v":1.5e-2},{"k":14,"x":31,"lo":0.28,"hi":0.4,"v":1.5e-2},{"k":14,"x":36,"lo":0.34,"hi":0.38,"v":1.5e-2},
{"k":15,"x":1,"lo":0,"hi":0.28,"v":3e-2},{"k":15,"x":12,"lo":0.08,"hi":0.25,"v":3e-2},{"k":15,"x":22,"lo":0.18,"hi":0.22,"v":3e-2},
{"k":16,"x":1,"lo":0,"hi":0.15,"v":6e-2},{"k":16,"x":10,"lo":0.06,"hi":0.12,"v":6e-2},
{"k":17,"x":1,"lo":0,"hi":0.08,"v":0.1},{"k":17,"x":6,"lo":0.04,"hi":0.06,"v":0.1},
{"k":18,"x":160,"lo":1.87,"hi":2,"v":6e-4},{"k":18,"x":175,"lo":1.8,"hi":2.25,"v":6e-4},{"k":18,"x":200,"lo":1.75,"hi":2.25,"v":6e-4},
{"k":19,"x":150,"lo":2.06,"hi":2.2,"v":2e-3},{"k":19,"x":165,"lo":2,"hi":2.25,"v":2e-3},{"k":19,"x":170,"lo":2.05,"hi":2.25,"v":2e-3},
{"k":20,"x":133,"lo":2.03,"hi":2.07,"v":4e-3},{"k":20,"x":145,"lo":1.95,"hi":2,"v":5e-3},{"k":20,"x":160,"lo":1.84,"hi":1.88,"v":6e-3},
{"k":21,"x":170,"lo":1.95,"hi":2.05,"v":2e-3},{"k":21,"x":185,"lo":2,"hi":2.1,"v":2e-3},
{"k":22,"x":165,"lo":1.82,"hi":1.87,"v":1.5e-4},{"k":22,"x":180,"lo":1.8,"hi":1.9,"v":1.5e-4},{"k":22,"x":190,"lo":1.8,"hi":1.86,"v":1.5e-4},
{"k":23,"x":185,"lo":2.13,"hi":2.25,"v":1.5e-4},{"k":23,"x":200,"lo":2.13,"hi":2.25,"v":1.5e-4},
{"k":24,"x":165,"lo":1.84,"hi":1.86,"v":3e-3},{"k":24,"x":180,"lo":1.77,"hi":1.79,"v":5e-3},{"k":24,"x":200,"lo":1.75,"hi":1.77,"v":3e-3}]},
"bounds":"flush","spacing":{"row":90,"column":24},"columns":5,"concat":[
{"width":254,"height":254,"title":{"text":"(a)","offset":-11,"dx":-75},"layer":[{"data":{"name":"a"},"mark":{"type":"rect"},"encoding":{"x":{"field":"x","type":"quantitative","scale":{"domain":[1,20],"nice":false},"axis":{"values":[1,5,10,15,20],"title":"Number of unit cell","titleFontSize":26,"labelPadding":1,"titlePadding":2}},"x2":{"field":"x2"},"y":{"field":"t0","type":"quantitative","scale":{"domain":[0,2.25],"nice":false},"axis":{"values":[0,0.45,0.9,1.35,1.8,2.25],"labelExpr":"datum.value","title":"t/N","titleFontSize":28,"titleFontStyle":"italic","labelPadding":6,"titlePadding":6}},"y2":{"field":"t1"},"color":{"field":"v","type":"quantitative","legend":null,"scale":{"type":"log","domain":[1e-4,3.162e-4,3.162e-3,3.162e-2,0.3162,1],"range":["#000080","#0000ff","#00ffff","#ffff00","#ff0000","#800000"]}}}},{"data":{"name":"m10"},"mark":{"type":"rule","color":"white","strokeWidth":2,"strokeDash":[5,4]},"encoding":{"x":{"field":"x","type":"quantitative"}}}]},
{"width":19,"height":254,"layer":[{"data":{"name":"cb"},"mark":{"type":"rect","stroke":"#000000","strokeWidth":1,"fill":{"gradient":"linear","x1":0,"y1":1,"x2":0,"y2":0,"stops":[{"offset":0,"color":"#000080"},{"offset":0.125,"color":"#0000ff"},{"offset":0.375,"color":"#00ffff"},{"offset":0.625,"color":"#ffff00"},{"offset":0.875,"color":"#ff0000"},{"offset":1,"color":"#800000"}]}},"encoding":{"y":{"field":"lo","type":"quantitative","scale":{"type":"log","domain":[1e-4,1.076],"nice":false},"axis":{"orient":"right","labelFontSize":22,"labelPadding":6,"labelExpr":"datum.value==1?'10⁰':datum.value==0.1?'10⁻¹':datum.value==0.01?'10⁻²':datum.value==0.001?'10⁻³':'10⁻⁴'","values":[1e-4,1e-3,1e-2,0.1,1],"title":"KE/TE","titleFontSize":24,"titleX":-21,"titleY":127,"titleAngle":270,"titleAlign":"center","titleBaseline":"bottom"}},"y2":{"field":"hi"}}},{"data":{"name":"tk"},"mark":{"type":"tick","color":"#808080","size":10,"clip":true},"encoding":{"y":{"field":"y","type":"quantitative"},"x":{"value":0}}},{"data":{"name":"tk"},"mark":{"type":"tick","color":"#808080","size":10,"clip":true},"encoding":{"y":{"field":"y","type":"quantitative"},"x":{"value":19}}}]},
{"width":93,"height":254,"data":{"name":"m10"},"mark":{"type":"point","opacity":0},"encoding":{}},
{"width":254,"height":254,"title":{"text":"(b)","offset":-11,"dx":-89},"layer":[{"data":{"name":"b"},"mark":{"type":"area","clip":true},"encoding":{"x":{"field":"x","type":"quantitative","scale":{"domain":[1,200],"nice":false},"axis":{"values":[1,50,100,150,200],"title":"Number of unit cell","titleFontSize":26,"labelPadding":1,"titlePadding":2}},"y":{"field":"lo","type":"quantitative","scale":{"domain":[0,2.25],"nice":false},"axis":{"values":[0,0.45,0.9,1.35,1.8,2.25],"labelExpr":"datum.value","title":"t/N","titleFontSize":28,"titleFontStyle":"italic","labelPadding":6,"titlePadding":6}},"y2":{"field":"hi"},"detail":{"field":"k"},"color":{"field":"v","type":"quantitative","legend":null,"scale":{"type":"log","domain":[1e-4,3.162e-4,3.162e-3,3.162e-2,0.3162,1],"range":["#000080","#0000ff","#00ffff","#ffff00","#ff0000","#800000"]}}}},{"data":{"name":"m100"},"mark":{"type":"rule","color":"white","strokeWidth":2,"strokeDash":[5,4]},"encoding":{"x":{"field":"x","type":"quantitative"}}}]},
{"width":19,"height":254,"layer":[{"data":{"name":"cb"},"mark":{"type":"rect","stroke":"#000000","strokeWidth":1,"fill":{"gradient":"linear","x1":0,"y1":1,"x2":0,"y2":0,"stops":[{"offset":0,"color":"#000080"},{"offset":0.125,"color":"#0000ff"},{"offset":0.375,"color":"#00ffff"},{"offset":0.625,"color":"#ffff00"},{"offset":0.875,"color":"#ff0000"},{"offset":1,"color":"#800000"}]}},"encoding":{"y":{"field":"lo","type":"quantitative","scale":{"type":"log","domain":[1e-4,1.076],"nice":false},"axis":{"orient":"right","labelFontSize":22,"labelPadding":6,"labelExpr":"datum.value==1?'10⁰':datum.value==0.1?'10⁻¹':datum.value==0.01?'10⁻²':datum.value==0.001?'10⁻³':'10⁻⁴'","values":[1e-4,1e-3,1e-2,0.1,1],"title":"KE/TE","titleFontSize":24,"titleX":-21,"titleY":127,"titleAngle":270,"titleAlign":"center","titleBaseline":"bottom"}},"y2":{"field":"hi"}}},{"data":{"name":"tk"},"mark":{"type":"tick","color":"#808080","size":10,"clip":true},"encoding":{"y":{"field":"y","type":"quantitative"},"x":{"value":0}}},{"data":{"name":"tk"},"mark":{"type":"tick","color":"#808080","size":10,"clip":true},"encoding":{"y":{"field":"y","type":"quantitative"},"x":{"value":19}}}]},
{"width":254,"height":254,"title":{"text":"(c)","offset":-11,"dx":-75},"layer":[{"data":{"name":"c"},"mark":{"type":"rect"},"encoding":{"x":{"field":"x","type":"quantitative","scale":{"domain":[1,20],"nice":false},"axis":{"values":[1,5,10,15,20],"title":"Number of unit cell","titleFontSize":26,"labelPadding":1,"titlePadding":2}},"x2":{"field":"x2"},"y":{"field":"t0","type":"quantitative","scale":{"domain":[0,2.25],"nice":false},"axis":{"values":[0,0.45,0.9,1.35,1.8,2.25],"labelExpr":"datum.value","title":"t/N","titleFontSize":28,"titleFontStyle":"italic","labelPadding":6,"titlePadding":6}},"y2":{"field":"t1"},"color":{"field":"v","type":"quantitative","legend":null,"scale":{"type":"log","domain":[1e-4,3.162e-4,3.162e-3,3.162e-2,0.3162,1],"range":["#000080","#0000ff","#00ffff","#ffff00","#ff0000","#800000"]}}}},{"data":{"name":"m10"},"mark":{"type":"rule","color":"white","strokeWidth":2,"strokeDash":[5,4]},"encoding":{"x":{"field":"x","type":"quantitative"}}}]},
{"width":19,"height":254,"layer":[{"data":{"name":"cb"},"mark":{"type":"rect","stroke":"#000000","strokeWidth":1,"fill":{"gradient":"linear","x1":0,"y1":1,"x2":0,"y2":0,"stops":[{"offset":0,"color":"#000080"},{"offset":0.125,"color":"#0000ff"},{"offset":0.375,"color":"#00ffff"},{"offset":0.625,"color":"#ffff00"},{"offset":0.875,"color":"#ff0000"},{"offset":1,"color":"#800000"}]}},"encoding":{"y":{"field":"lo","type":"quantitative","scale":{"type":"log","domain":[1e-4,1.076],"nice":false},"axis":{"orient":"right","labelFontSize":22,"labelPadding":6,"labelExpr":"datum.value==1?'10⁰':datum.value==0.1?'10⁻¹':datum.value==0.01?'10⁻²':datum.value==0.001?'10⁻³':'10⁻⁴'","values":[1e-4,1e-3,1e-2,0.1,1],"title":"KE/TE","titleFontSize":24,"titleX":-21,"titleY":127,"titleAngle":270,"titleAlign":"center","titleBaseline":"bottom"}},"y2":{"field":"hi"}}},{"data":{"name":"tk"},"mark":{"type":"tick","color":"#808080","size":10,"clip":true},"encoding":{"y":{"field":"y","type":"quantitative"},"x":{"value":0}}},{"data":{"name":"tk"},"mark":{"type":"tick","color":"#808080","size":10,"clip":true},"encoding":{"y":{"field":"y","type":"quantitative"},"x":{"value":19}}}]},
{"width":93,"height":254,"data":{"name":"m10"},"mark":{"type":"point","opacity":0},"encoding":{}},
{"width":254,"height":254,"title":{"text":"(d)","offset":-11,"dx":-89},"layer":[{"data":{"name":"d"},"mark":{"type":"area","clip":true},"encoding":{"x":{"field":"x","type":"quantitative","scale":{"domain":[1,200],"nice":false},"axis":{"values":[1,50,100,150,200],"title":"Number of unit cell","titleFontSize":26,"labelPadding":1,"titlePadding":2}},"y":{"field":"lo","type":"quantitative","scale":{"domain":[0,2.25],"nice":false},"axis":{"values":[0,0.45,0.9,1.35,1.8,2.25],"labelExpr":"datum.value","title":"t/N","titleFontSize":28,"titleFontStyle":"italic","labelPadding":6,"titlePadding":6}},"y2":{"field":"hi"},"detail":{"field":"k"},"color":{"field":"v","type":"quantitative","legend":null,"scale":{"type":"log","domain":[1e-4,3.162e-4,3.162e-3,3.162e-2,0.3162,1],"range":["#000080","#0000ff","#00ffff","#ffff00","#ff0000","#800000"]}}}},{"data":{"name":"m100"},"mark":{"type":"rule","color":"white","strokeWidth":2,"strokeDash":[5,4]},"encoding":{"x":{"field":"x","type":"quantitative"}}}]},
{"width":19,"height":254,"layer":[{"data":{"name":"cb"},"mark":{"type":"rect","stroke":"#000000","strokeWidth":1,"fill":{"gradient":"linear","x1":0,"y1":1,"x2":0,"y2":0,"stops":[{"offset":0,"color":"#000080"},{"offset":0.125,"color":"#0000ff"},{"offset":0.375,"color":"#00ffff"},{"offset":0.625,"color":"#ffff00"},{"offset":0.875,"color":"#ff0000"},{"offset":1,"color":"#800000"}]}},"encoding":{"y":{"field":"lo","type":"quantitative","scale":{"type":"log","domain":[1e-4,1.076],"nice":false},"axis":{"orient":"right","labelFontSize":22,"labelPadding":6,"labelExpr":"datum.value==1?'10⁰':datum.value==0.1?'10⁻¹':datum.value==0.01?'10⁻²':datum.value==0.001?'10⁻³':'10⁻⁴'","values":[1e-4,1e-3,1e-2,0.1,1],"title":"KE/TE","titleFontSize":24,"titleX":-21,"titleY":127,"titleAngle":270,"titleAlign":"center","titleBaseline":"bottom"}},"y2":{"field":"hi"}}},{"data":{"name":"tk"},"mark":{"type":"tick","color":"#808080","size":10,"clip":true},"encoding":{"y":{"field":"y","type":"quantitative"},"x":{"value":0}}},{"data":{"name":"tk"},"mark":{"type":"tick","color":"#808080","size":10,"clip":true},"encoding":{"y":{"field":"y","type":"quantitative"},"x":{"value":19}}}]}
]}
